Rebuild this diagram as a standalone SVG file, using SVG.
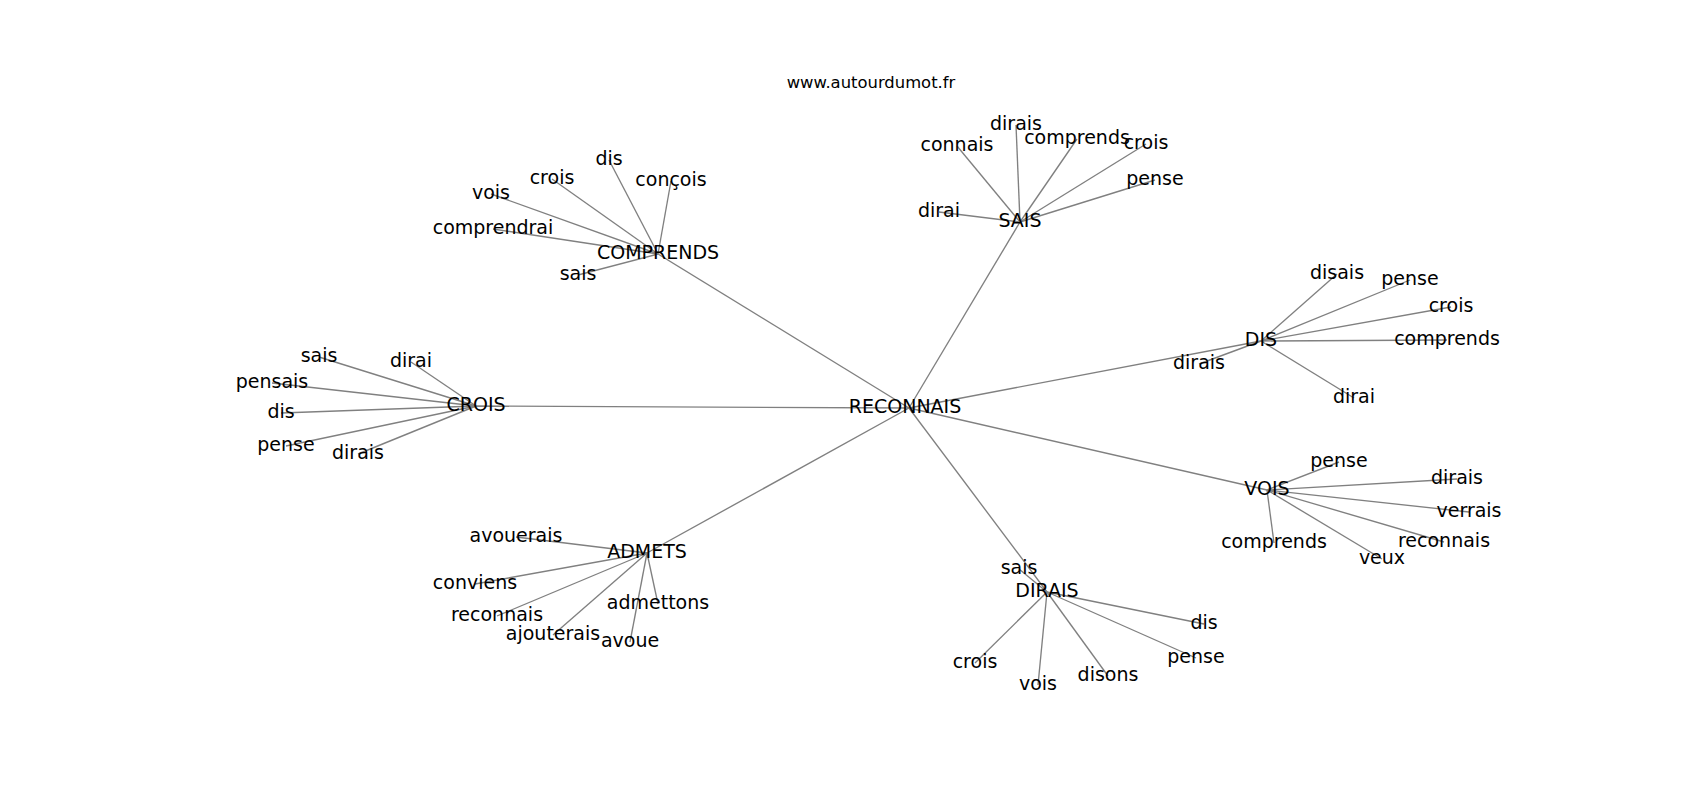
<svg xmlns="http://www.w3.org/2000/svg" width="1700" height="800" viewBox="0 0 1700 800">
<style>
.e{stroke:#808080;stroke-width:1.35;fill:none}
text{font-family:"DejaVu Sans","Liberation Sans",sans-serif;font-size:19px;fill:#000;text-anchor:middle}
.t{font-size:16.4px}
</style>
<rect width="1700" height="800" fill="#fff"/>
<text class="t" x="871" y="88">www.autourdumot.fr</text>
<g id="edges">
<!-- hub edges -->
<line class="e" x1="909" y1="408" x2="658" y2="254"/>
<line class="e" x1="909" y1="408" x2="1020" y2="222"/>
<line class="e" x1="909" y1="408" x2="1261" y2="341"/>
<line class="e" x1="909" y1="408" x2="1267" y2="490"/>
<line class="e" x1="909" y1="408" x2="1047" y2="592"/>
<line class="e" x1="909" y1="408" x2="647" y2="553"/>
<line class="e" x1="909" y1="408" x2="476" y2="406"/>
<!-- COMPRENDS -->
<line class="e" x1="658" y1="254" x2="609" y2="160"/>
<line class="e" x1="658" y1="254" x2="552" y2="179"/>
<line class="e" x1="658" y1="254" x2="671" y2="181"/>
<line class="e" x1="658" y1="254" x2="491" y2="194"/>
<line class="e" x1="658" y1="254" x2="493" y2="229"/>
<line class="e" x1="658" y1="254" x2="578" y2="275"/>
<!-- SAIS -->
<line class="e" x1="1020" y1="222" x2="957" y2="146"/>
<line class="e" x1="1020" y1="222" x2="1016" y2="125"/>
<line class="e" x1="1020" y1="222" x2="1077" y2="139"/>
<line class="e" x1="1020" y1="222" x2="1146" y2="144"/>
<line class="e" x1="1020" y1="222" x2="1155" y2="180"/>
<line class="e" x1="1020" y1="222" x2="939" y2="212"/>
<!-- DIS -->
<line class="e" x1="1261" y1="341" x2="1337" y2="274"/>
<line class="e" x1="1261" y1="341" x2="1410" y2="280"/>
<line class="e" x1="1261" y1="341" x2="1451" y2="307"/>
<line class="e" x1="1261" y1="341" x2="1447" y2="340"/>
<line class="e" x1="1261" y1="341" x2="1199" y2="364"/>
<line class="e" x1="1261" y1="341" x2="1354" y2="398"/>
<!-- VOIS -->
<line class="e" x1="1267" y1="490" x2="1339" y2="462"/>
<line class="e" x1="1267" y1="490" x2="1457" y2="479"/>
<line class="e" x1="1267" y1="490" x2="1469" y2="512"/>
<line class="e" x1="1267" y1="490" x2="1444" y2="542"/>
<line class="e" x1="1267" y1="490" x2="1382" y2="559"/>
<line class="e" x1="1267" y1="490" x2="1274" y2="543"/>
<!-- DIRAIS -->
<line class="e" x1="1047" y1="592" x2="1019" y2="569"/>
<line class="e" x1="1047" y1="592" x2="1204" y2="624"/>
<line class="e" x1="1047" y1="592" x2="1196" y2="658"/>
<line class="e" x1="1047" y1="592" x2="1108" y2="676"/>
<line class="e" x1="1047" y1="592" x2="1038" y2="685"/>
<line class="e" x1="1047" y1="592" x2="975" y2="663"/>
<!-- ADMETS -->
<line class="e" x1="647" y1="553" x2="516" y2="537"/>
<line class="e" x1="647" y1="553" x2="475" y2="584"/>
<line class="e" x1="647" y1="553" x2="497" y2="616"/>
<line class="e" x1="647" y1="553" x2="553" y2="635"/>
<line class="e" x1="647" y1="553" x2="630" y2="642"/>
<line class="e" x1="647" y1="553" x2="658" y2="604"/>
<!-- CROIS -->
<line class="e" x1="476" y1="406" x2="319" y2="357"/>
<line class="e" x1="476" y1="406" x2="411" y2="362"/>
<line class="e" x1="476" y1="406" x2="272" y2="383"/>
<line class="e" x1="476" y1="406" x2="281" y2="413"/>
<line class="e" x1="476" y1="406" x2="286" y2="446"/>
<line class="e" x1="476" y1="406" x2="358" y2="454"/>
</g>
<g id="n-reconnais"><text x="905" y="413">RECONNAIS</text></g>
<g id="n-comprends"><text x="658" y="259">COMPRENDS</text></g>
<g id="n-comprends-dis"><text x="609" y="165">dis</text></g>
<g id="n-comprends-crois"><text x="552" y="184">crois</text></g>
<g id="n-comprends-concois"><text x="671" y="186">conçois</text></g>
<g id="n-comprends-vois"><text x="491" y="199">vois</text></g>
<g id="n-comprends-comprendrai"><text x="493" y="234">comprendrai</text></g>
<g id="n-comprends-sais"><text x="578" y="280">sais</text></g>
<g id="n-sais"><text x="1020" y="227">SAIS</text></g>
<g id="n-sais-connais"><text x="957" y="151">connais</text></g>
<g id="n-sais-dirais"><text x="1016" y="130">dirais</text></g>
<g id="n-sais-comprends"><text x="1077" y="144">comprends</text></g>
<g id="n-sais-crois"><text x="1146" y="149">crois</text></g>
<g id="n-sais-pense"><text x="1155" y="185">pense</text></g>
<g id="n-sais-dirai"><text x="939" y="217">dirai</text></g>
<g id="n-dis"><text x="1261" y="346">DIS</text></g>
<g id="n-dis-disais"><text x="1337" y="279">disais</text></g>
<g id="n-dis-pense"><text x="1410" y="285">pense</text></g>
<g id="n-dis-crois"><text x="1451" y="312">crois</text></g>
<g id="n-dis-comprends"><text x="1447" y="345">comprends</text></g>
<g id="n-dis-dirais"><text x="1199" y="369">dirais</text></g>
<g id="n-dis-dirai"><text x="1354" y="403">dirai</text></g>
<g id="n-vois"><text x="1267" y="495">VOIS</text></g>
<g id="n-vois-pense"><text x="1339" y="467">pense</text></g>
<g id="n-vois-dirais"><text x="1457" y="484">dirais</text></g>
<g id="n-vois-verrais"><text x="1469" y="517">verrais</text></g>
<g id="n-vois-reconnais"><text x="1444" y="547">reconnais</text></g>
<g id="n-vois-veux"><text x="1382" y="564">veux</text></g>
<g id="n-vois-comprends"><text x="1274" y="548">comprends</text></g>
<g id="n-dirais"><text x="1047" y="597">DIRAIS</text></g>
<g id="n-dirais-sais"><text x="1019" y="574">sais</text></g>
<g id="n-dirais-dis"><text x="1204" y="629">dis</text></g>
<g id="n-dirais-pense"><text x="1196" y="663">pense</text></g>
<g id="n-dirais-disons"><text x="1108" y="681">disons</text></g>
<g id="n-dirais-vois"><text x="1038" y="690">vois</text></g>
<g id="n-dirais-crois"><text x="975" y="668">crois</text></g>
<g id="n-admets"><text x="647" y="558">ADMETS</text></g>
<g id="n-admets-avouerais"><text x="516" y="542">avouerais</text></g>
<g id="n-admets-conviens"><text x="475" y="589">conviens</text></g>
<g id="n-admets-reconnais"><text x="497" y="621">reconnais</text></g>
<g id="n-admets-ajouterais"><text x="553" y="640">ajouterais</text></g>
<g id="n-admets-avoue"><text x="630" y="647">avoue</text></g>
<g id="n-admets-admettons"><text x="658" y="609">admettons</text></g>
<g id="n-crois"><text x="476" y="411">CROIS</text></g>
<g id="n-crois-sais"><text x="319" y="362">sais</text></g>
<g id="n-crois-dirai"><text x="411" y="367">dirai</text></g>
<g id="n-crois-pensais"><text x="272" y="388">pensais</text></g>
<g id="n-crois-dis"><text x="281" y="418">dis</text></g>
<g id="n-crois-pense"><text x="286" y="451">pense</text></g>
<g id="n-crois-dirais"><text x="358" y="459">dirais</text></g>
</svg>
